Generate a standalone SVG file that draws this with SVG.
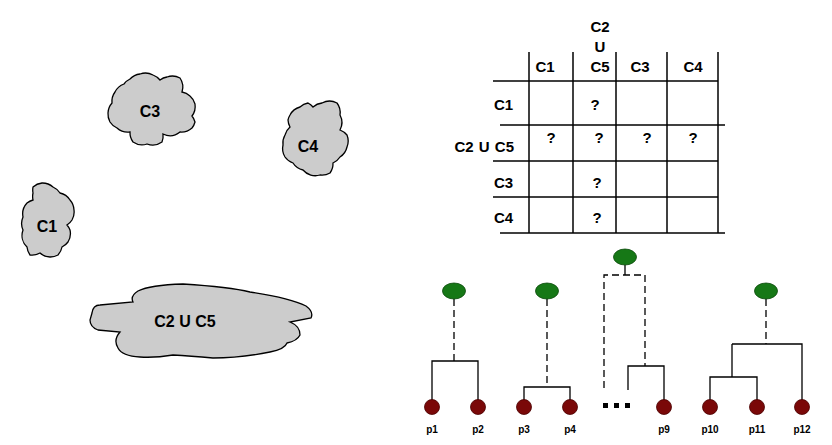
<svg xmlns="http://www.w3.org/2000/svg" width="832" height="445" viewBox="0 0 832 445">
<style>
.blob{fill:#cccccc;stroke:#000;stroke-width:1.3}
.t{font-family:"Liberation Sans",Arial,Helvetica,sans-serif;font-weight:bold;fill:#000}
.bt{font-size:16px;text-anchor:middle}
.tt{font-size:15px}
.pl{font-size:10px;text-anchor:middle}
.grid{stroke:#000;stroke-width:1.5;fill:none}
.ln{stroke:#000;stroke-width:1.3;fill:none}
.dash{stroke-dasharray:7 4}
.root{fill:#167816;stroke:#0d4a0d;stroke-width:0.8}
.leaf{fill:#7a0808;stroke:#4a0000;stroke-width:0.8}
</style>
<rect width="832" height="445" fill="#fff"/>

<g id="C3">
<path class="blob" d="M112,103 A16 16 0 0 1 115,92 A16 16 0 0 1 124,84 A16 16 0 0 1 130,79 A16 16 0 0 1 140,74 A16 16 0 0 1 153,75 A16 16 0 0 1 160,80 A16 16 0 0 1 167,77 A16 16 0 0 1 180,78 A16 16 0 0 1 182,92 A16 16 0 0 1 190,96 A16 16 0 0 1 195,104 A16 16 0 0 1 192,116 A16 16 0 0 1 195,122 A16 16 0 0 1 192,128 A16 16 0 0 1 180,132 A16 16 0 0 1 163,134 A16 16 0 0 1 162,142 A16 16 0 0 1 147,144 A16 16 0 0 1 133,142 A16 16 0 0 1 130,132 A16 16 0 0 1 117,128 A16 16 0 0 1 110,122 A16 16 0 0 1 108,113 A16 16 0 0 1 112,103 Z"/>
<text class="t bt" x="150" y="117">C3</text>
</g>

<g id="C4">
<path class="blob" d="M290,115 A16 16 0 0 1 300,107 A16 16 0 0 1 308,103 A16 16 0 0 1 313,107 A16 16 0 0 1 322,103 A16 16 0 0 1 337,103 A16 16 0 0 1 340,115 A16 16 0 0 1 340,130 A16 16 0 0 1 347,135 A16 16 0 0 1 347,147 A16 16 0 0 1 340,157 A16 16 0 0 1 333,163 A16 16 0 0 1 330,173 A16 16 0 0 1 320,175 A16 16 0 0 1 303,170 A16 16 0 0 1 293,163 A16 16 0 0 1 285,157 A16 16 0 0 1 283,145 A16 16 0 0 1 285,135 A16 16 0 0 1 290,127 A16 16 0 0 1 288,120 A16 16 0 0 1 290,115 Z"/>
<text class="t bt" x="308" y="152">C4</text>
</g>

<g id="C1">
<path class="blob" d="M33,187 A16 16 0 0 1 42,183 A16 16 0 0 1 53,187 A16 16 0 0 1 60,193 A16 16 0 0 1 70,200 A16 16 0 0 1 74,210 A16 16 0 0 1 72,220 A16 16 0 0 1 67,225 A16 16 0 0 1 70,230 A16 16 0 0 1 68,242 A16 16 0 0 1 62,247 A16 16 0 0 1 58,255 A16 16 0 0 1 50,257 A16 16 0 0 1 40,253 A16 16 0 0 1 30,255 A16 16 0 0 1 27,247 A16 16 0 0 1 23,230 A16 16 0 0 1 23,217 A16 16 0 0 1 27,203 A16 16 0 0 1 33,200 A16 16 0 0 1 33,193 A16 16 0 0 1 33,187 Z"/>
<text class="t bt" x="47" y="232">C1</text>
</g>

<g id="C2UC5">
<path class="blob" d="M92,313 Q93,305 100,305 L133,302 Q130,296 138,291 Q150,285 183,284 Q230,287 250,292 Q290,298 306,306 Q314,312 311,318 L290,322 Q300,326 300,335 Q297,341 287,343 Q285,349 270,352 Q240,358 213,358 Q190,356 173,355 Q155,358 140,357 Q122,356 118,348 Q113,340 120,332 L98,330 Q90,327 90,320 Z"/>
<text class="t bt" x="185" y="327">C2 U C5</text>
</g>

<g id="matrix">
<g class="grid">
<line x1="529" y1="52" x2="529" y2="233"/>
<line x1="573" y1="52" x2="573" y2="233"/>
<line x1="616" y1="52" x2="616" y2="233"/>
<line x1="667" y1="52" x2="667" y2="233"/>
<line x1="718" y1="52" x2="718" y2="233"/>
<line x1="493" y1="81" x2="718" y2="81"/>
<line x1="500" y1="125" x2="725" y2="125"/>
<line x1="493" y1="161" x2="718" y2="161"/>
<line x1="493" y1="197" x2="718" y2="197"/>
<line x1="500" y1="233" x2="725" y2="233"/>
</g>
<g class="t tt" text-anchor="middle">
<text x="545" y="72">C1</text>
<text x="600" y="32">C2</text>
<text x="600" y="52">U</text>
<text x="600" y="72">C5</text>
<text x="640" y="72">C3</text>
<text x="693" y="72">C4</text>
<text x="595" y="110">?</text>
<text x="551" y="143">?</text>
<text x="599" y="143">?</text>
<text x="647" y="143">?</text>
<text x="693" y="143">?</text>
<text x="597" y="188">?</text>
<text x="597" y="223">?</text>
</g>
<g class="t tt">
<text x="494" y="110">C1</text>
<text x="514" y="152" text-anchor="end" word-spacing="1">C2 U C5</text>
<text x="494" y="188">C3</text>
<text x="494" y="223">C4</text>
</g>
</g>

<g id="connectors">
<path class="ln dash" d="M454,299 V361"/>
<path class="ln" d="M432,402 V361 H478 V402"/>
<path class="ln dash" d="M547,299 V387"/>
<path class="ln" d="M524,402 V387 H570 V402"/>
<path class="ln" d="M625,265 V275"/>
<path class="ln dash" d="M604,388 V275 H645 V366"/>
<path class="ln" d="M628,390 V366 H664 V402"/>
<path class="ln dash" d="M766,299 V344"/>
<path class="ln" d="M732,344 H802 V402 M732,344 V377 M710,402 V377 H757 V402"/>
</g>

<g id="tree1">
<ellipse class="root" cx="454" cy="291" rx="11.5" ry="8"/>
<circle class="leaf" cx="432" cy="407" r="7.5"/>
<circle class="leaf" cx="478" cy="407" r="7.5"/>
<text class="t pl" x="432" y="433">p1</text>
<text class="t pl" x="478" y="433">p2</text>
</g>
<g id="tree2">
<ellipse class="root" cx="547" cy="291" rx="11.5" ry="8"/>
<circle class="leaf" cx="524" cy="407" r="7.5"/>
<circle class="leaf" cx="570" cy="407" r="7.5"/>
<text class="t pl" x="524" y="433">p3</text>
<text class="t pl" x="570" y="433">p4</text>
</g>
<g id="tree3">
<ellipse class="root" cx="625" cy="257" rx="11.5" ry="8"/>
<rect x="603" y="403" width="5" height="5" fill="#000"/>
<rect x="614" y="403" width="5" height="5" fill="#000"/>
<rect x="625" y="403" width="5" height="5" fill="#000"/>
<circle class="leaf" cx="664" cy="407" r="7.5"/>
<text class="t pl" x="664" y="433">p9</text>
</g>
<g id="tree4">
<ellipse class="root" cx="766" cy="291" rx="11.5" ry="8"/>
<circle class="leaf" cx="710" cy="407" r="7.5"/>
<circle class="leaf" cx="757" cy="407" r="7.5"/>
<circle class="leaf" cx="802" cy="407" r="7.5"/>
<text class="t pl" x="710" y="433">p10</text>
<text class="t pl" x="757" y="433">p11</text>
<text class="t pl" x="802" y="433">p12</text>
</g>
</svg>
